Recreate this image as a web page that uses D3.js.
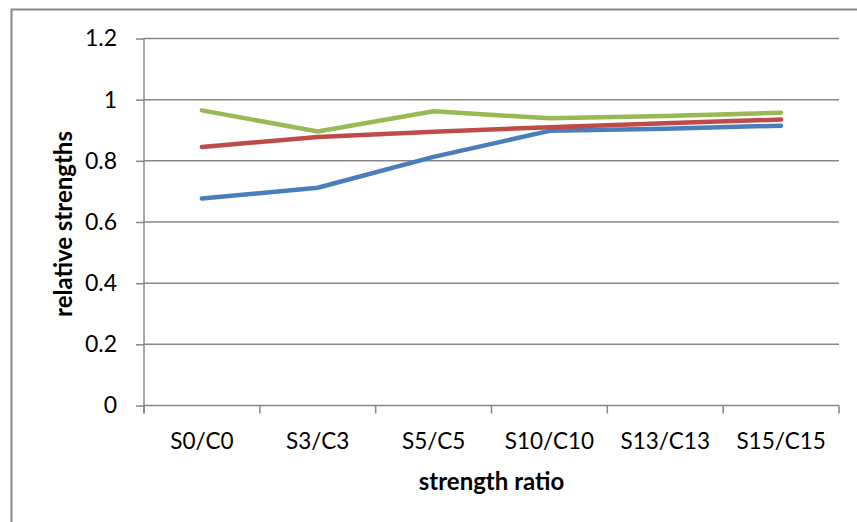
<!DOCTYPE html>
<html>
<head>
<meta charset="utf-8">
<script src="https://cdn.jsdelivr.net/npm/d3@7"></script>
<style>
  body { margin: 0; background: #fff; }
  text { font-family: Lato, "Open Sans", sans-serif; fill: #000; }
</style>
</head>
<body>
<div id="chart"></div>
<script>
// data
var categories = ["S0/C0", "S3/C3", "S5/C5", "S10/C10", "S13/C13", "S15/C15"];
var blueSeries  = [0.677, 0.712, 0.813, 0.898, 0.905, 0.915];
var redSeries   = [0.845, 0.878, 0.895, 0.910, 0.923, 0.935];
var greenSeries = [0.965, 0.896, 0.962, 0.939, 0.947, 0.957];
var yTicks = [0, 0.2, 0.4, 0.6, 0.8, 1, 1.2];

var series = [
    {name: "blue",  values: blueSeries,  color: "#4A7EBB"},
    {name: "red",   values: redSeries,   color: "#BE4B48"},
    {name: "green", values: greenSeries, color: "#98B954"}
];

var W = 857, H = 522;
var margin = {top: 38.5, right: 18, bottom: 116.5, left: 144},
    width = W - margin.left - margin.right,
    height = H - margin.top - margin.bottom;

var svg = d3.select("#chart")
    .append("svg")
    .attr("width", W)
    .attr("height", H);

// outer chart border
svg.append("rect")
    .attr("x", 11.5).attr("y", 9.5)
    .attr("width", 860).attr("height", 540)
    .attr("fill", "none")
    .attr("stroke", "#868686")
    .attr("stroke-width", 2);

var g = svg.append("g")
    .attr("transform", "translate(" + margin.left + "," + margin.top + ")");

var x = d3.scaleBand()
    .domain(categories)
    .range([0, width]);

var y = d3.scaleLinear()
    .domain([0, 1.2])
    .range([height, 0]);

// gridlines
g.selectAll(".grid")
    .data(yTicks.filter(function(d) { return d > 0; }))
    .enter()
    .append("line")
    .attr("x1", 0).attr("x2", width)
    .attr("y1", function(d) { return y(d); })
    .attr("y2", function(d) { return y(d); })
    .attr("stroke", "#868686")
    .attr("stroke-width", 1.5);

// Y axis
var yAxis = g.append("g")
    .call(d3.axisLeft(y).tickValues(yTicks).tickSize(8).tickPadding(19)
        .tickFormat(function(d) { return String(d); }));
yAxis.selectAll("line, path").attr("stroke", "#868686").attr("stroke-width", 1.5);
yAxis.select("path").attr("d", "M0,0V" + (height + 8));
yAxis.selectAll("text").style("font-size", "23px");

// X axis: ticks at category boundaries
var xAxis = g.append("g")
    .attr("transform", "translate(0," + height + ")");
xAxis.append("line")
    .attr("x1", 0).attr("x2", width)
    .attr("stroke", "#868686").attr("stroke-width", 1.5);
xAxis.selectAll(".tk")
    .data(categories.concat(["end"]))
    .enter()
    .append("line")
    .attr("x1", function(d, i) { return i * x.step(); })
    .attr("x2", function(d, i) { return i * x.step(); })
    .attr("y1", 0).attr("y2", 8)
    .attr("stroke", "#868686").attr("stroke-width", 1.5);
xAxis.selectAll(".lbl")
    .data(categories)
    .enter()
    .append("text")
    .attr("x", function(d) { return x(d) + x.bandwidth() / 2; })
    .attr("y", 43)
    .attr("text-anchor", "middle")
    .style("font-size", "22.5px")
    .text(function(d) { return d; });

// lines
var line = d3.line()
    .x(function(d, i) { return x(categories[i]) + x.bandwidth() / 2; })
    .y(function(d) { return y(d); });

g.selectAll(".series")
    .data(series)
    .enter()
    .append("path")
    .attr("d", function(d) { return line(d.values); })
    .attr("fill", "none")
    .attr("stroke", function(d) { return d.color; })
    .attr("stroke-width", 4.5)
    .attr("stroke-linecap", "round")
    .attr("stroke-linejoin", "round");

// axis titles
svg.append("text")
    .attr("x", margin.left + width / 2)
    .attr("y", 490)
    .attr("text-anchor", "middle")
    .style("font-size", "24px")
    .style("font-weight", "bold")
    .text("strength ratio");

svg.append("text")
    .attr("transform", "translate(72,224)rotate(-90)")
    .attr("text-anchor", "middle")
    .style("font-size", "24px")
    .style("font-weight", "bold")
    .text("relative strengths");
</script>
</body>
</html>
